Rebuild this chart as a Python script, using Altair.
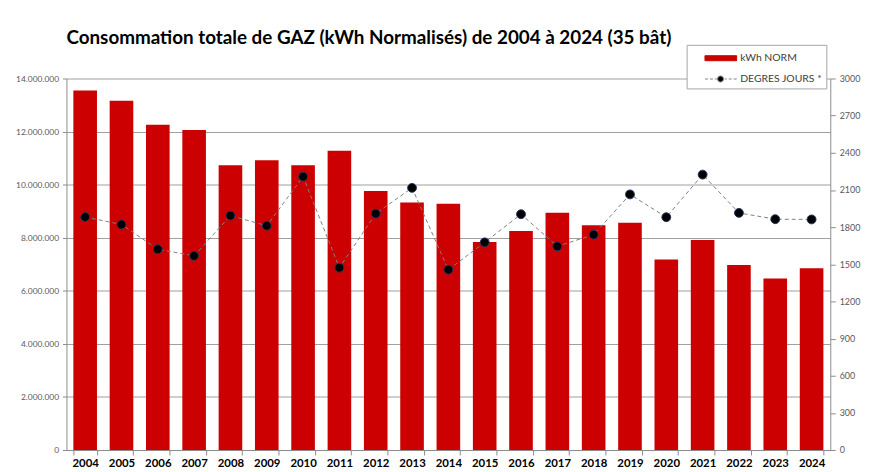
import altair as alt
import pandas as pd

years = [str(y) for y in range(2004, 2025)]
kwh_norm = [13550000, 13160000, 12260000, 12060000, 10730000, 10920000, 10730000,
            11280000, 9760000, 9330000, 9280000, 7840000, 8250000, 8940000,
            8470000, 8560000, 7180000, 7910000, 6970000, 6460000, 6850000]
degres_jours = [1882, 1821, 1621, 1568, 1893, 1811, 2208, 1472, 1909, 2117, 1456,
                1677, 1904, 1645, 1739, 2064, 1880, 2224, 1915, 1864, 1862]
series = ["kWh NORM", "DEGRES JOURS *"]
left_ticks = [0, 2000000, 4000000, 6000000, 8000000, 10000000, 12000000, 14000000]
right_ticks = list(range(0, 3001, 300))

df = pd.DataFrame({"annee": years, "kwh": kwh_norm, "dj": degres_jours})
leg_df = pd.DataFrame({"serie": series})

FONT = "Lato"
RED = "#cc0000"

x_enc = alt.X("annee:O", title=None,
              scale=alt.Scale(paddingInner=0.35, paddingOuter=0.19),
              axis=alt.Axis(labelAngle=0, labelFont=FONT, labelFontSize=11.5,
                            labelFontWeight="bold", labelColor="black",
                            labelPadding=3, tickBand="extent", tickSize=5,
                            tickColor="#8c8c8c", domainColor="#8c8c8c"))

bars = alt.Chart(df).mark_bar(color=RED).encode(
    x=x_enc,
    y=alt.Y("kwh:Q", title=None,
            scale=alt.Scale(domain=[0, 14000000], nice=False),
            axis=alt.Axis(values=left_ticks, orient="left", grid=True,
                          gridColor="#a0a0a0", gridWidth=1.2,
                          labelExpr="replace(format(datum.value, ','), regexp(',', 'g'), '.')",
                          labelFont=FONT, labelFontSize=8.5, labelColor="#595959",
                          labelPadding=4, tickSize=4, tickColor="#8c8c8c",
                          domainColor="#8c8c8c")),
)

line = alt.Chart(df).mark_line(color="#7f7f7f", strokeDash=[4, 3], strokeWidth=1).encode(
    x=alt.X("annee:O"),
    y=alt.Y("dj:Q", title=None,
            scale=alt.Scale(domain=[0, 3000], nice=False),
            axis=alt.Axis(values=right_ticks, orient="right", grid=False, format="d",
                          labelFont=FONT, labelFontSize=9, labelColor="#595959",
                          labelPadding=4, tickSize=5, tickColor="#8c8c8c",
                          domainColor="#8c8c8c")),
)

points = alt.Chart(df).mark_point(filled=True, fill="black", stroke="#1f3864",
                                  strokeWidth=1, size=80, opacity=1).encode(
    x=alt.X("annee:O"),
    y=alt.Y("dj:Q", scale=alt.Scale(domain=[0, 3000], nice=False), axis=None),
)

rect_path = "M0.556,-0.28H4.111V0.28H0.556Z"
dot_path = ("M0.556,0H0.889M1.111,0H1.444M1.667,0H1.889"
            "M2.778,0H3M3.222,0H3.556M3.778,0H4.111"
            "M1.967,0A0.333,0.333 0 1,0 2.633,0A0.333,0.333 0 1,0 1.967,0Z")

leg = alt.Legend(orient="none", legendX=626, legendY=-34, title=None,
                 symbolSize=324, symbolOpacity=1, symbolStrokeWidth=1,
                 labelOffset=31, padding=4, rowPadding=6,
                 strokeColor="#a6a6a6", fillColor="white",
                 labelFont=FONT, labelFontSize=10.5, labelColor="#404040")

legend_layer = alt.Chart(leg_df).mark_point(filled=True, opacity=0).encode(
    fill=alt.Fill("serie:N", scale=alt.Scale(domain=series, range=[RED, "black"]), legend=leg),
    stroke=alt.Stroke("serie:N", scale=alt.Scale(domain=series, range=[RED, "#7f7f7f"]), legend=leg),
    shape=alt.Shape("serie:N", scale=alt.Scale(domain=series, range=[rect_path, dot_path]), legend=leg),
)

chart = alt.layer(bars, line, points, legend_layer).resolve_scale(
    y="independent"
).properties(
    width=771, height=375,
    autosize=alt.AutoSizeParams(type="none"),
    padding={"left": 59, "top": 69, "right": 31, "bottom": 20},
    background="white",
    title=alt.Title("Consommation totale de GAZ (kWh Normalisés) de 2004 à 2024 (35 bât)",
                    anchor="start", frame="group", font=FONT, fontSize=19,
                    fontWeight="bold", color="black", offset=28, dy=32),
).configure_view(stroke=None)

chart.save("out.html", embed_options={"renderer": "svg", "actions": False})
